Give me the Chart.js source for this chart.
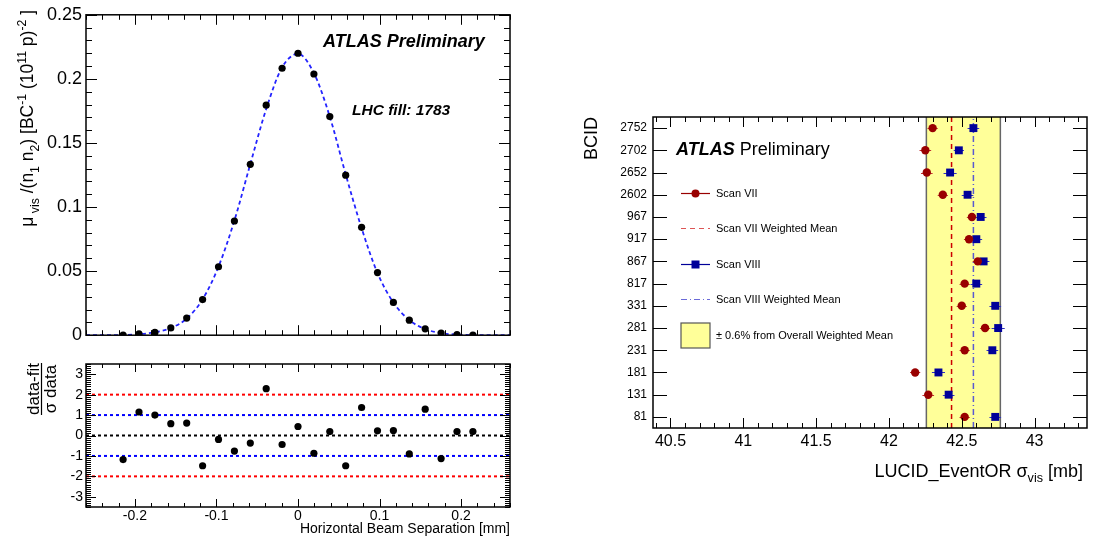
<!DOCTYPE html>
<html>
<head>
<meta charset="utf-8">
<script src="https://cdn.jsdelivr.net/npm/chart.js@4"></script>
<style>
  body { margin: 0; background: #fff; }
  #wrap { position: relative; width: 1099px; height: 540px; }
  canvas { position: absolute; }
</style>
</head>
<body>
<div id="wrap">
  <canvas id="fitChart" width="540" height="350" style="left:0;top:0"></canvas>
  <canvas id="pullChart" width="540" height="190" style="left:0;top:350px"></canvas>
  <canvas id="sigmaChart" width="539" height="540" style="left:560px;top:0"></canvas>
</div>
<script>
const FONT = "'Liberation Sans', Arial, Helvetica, sans-serif";

// --- vdM scan (left panels)
const scanX = [-0.2145, -0.195, -0.1755, -0.156, -0.1365, -0.117, -0.0975, -0.078, -0.0585, -0.039, -0.0195, 0,
  0.0195, 0.039, 0.0585, 0.078, 0.0975, 0.117, 0.1365, 0.156, 0.1755, 0.195, 0.2145];
const muVis = [0.0, 0.0010, 0.0022, 0.0057, 0.0134, 0.0278, 0.0534, 0.0891, 0.1333, 0.1795, 0.2083, 0.2200,
  0.2038, 0.1706, 0.1249, 0.0842, 0.0489, 0.0256, 0.0117, 0.0050, 0.0017, 0.0005, 0.0];
const fitX = [-0.26, -0.2145, -0.195, -0.1755, -0.156, -0.1365, -0.117, -0.0975, -0.078, -0.0585, -0.039, -0.0195, 0,
  0.0195, 0.039, 0.0585, 0.078, 0.0975, 0.117, 0.1365, 0.156, 0.1755, 0.195, 0.2145, 0.26];
const fitY = [0, 0.0002, 0.0008, 0.0023, 0.0056, 0.0130, 0.0280, 0.0535, 0.0895, 0.1335, 0.1765, 0.2090, 0.2195,
  0.2045, 0.1705, 0.1255, 0.0835, 0.0485, 0.0255, 0.0118, 0.0048, 0.0016, 0.0005, 0.0001, 0];
const pull = [-1.18, 1.15, 1.0, 0.58, 0.61, -1.48, -0.19, -0.76, -0.37, 2.29, -0.44, 0.44,
  -0.87, 0.19, -1.48, 1.37, 0.23, 0.24, -0.90, 1.29, -1.13, 0.19, 0.19];
const pullTicks = [-3, -2, -1, 0, 1, 2, 3];
const pullLines = [2, 1, 0, -1, -2];
const pullColors = ['#ff0000', '#0000ff', '#000000', '#0000ff', '#ff0000'];

// --- sigma_vis per BCID (right panel), top to bottom
const bcids = ['2752', '2702', '2652', '2602', '967', '917', '867', '817', '331', '281', '231', '181', '131', '81'];
const scanVII = [42.30, 42.25, 42.26, 42.37, 42.57, 42.55, 42.61, 42.52, 42.50, 42.66, 42.52, 42.18, 42.27, 42.52];
const scanVIIErr = [0.035, 0.04, 0.04, 0.035, 0.035, 0.035, 0.035, 0.035, 0.035, 0.035, 0.035, 0.035, 0.04, 0.035];
const scanVIII = [42.58, 42.48, 42.42, 42.54, 42.63, 42.60, 42.65, 42.60, 42.73, 42.75, 42.71, 42.34, 42.41, 42.73];
const scanVIIIErr = [0.04, 0.035, 0.045, 0.04, 0.04, 0.04, 0.04, 0.04, 0.04, 0.045, 0.04, 0.045, 0.04, 0.04];
const meanVII = 42.43;
const meanVIII = 42.58;
const bandRange = [42.257, 42.765];

function fmt(v) { return String(+v.toFixed(3)); }
function row(i) { return bcids.length - 1 - i; }

function eachStep(min, max, step, fn) {
  const k0 = Math.ceil(min / step - 1e-6), k1 = Math.floor(max / step + 1e-6);
  for (let k = k0; k <= k1; k++) fn(k * step);
}

// ROOT-like frame with ticks pointing inwards on all four sides
function rootFrame(spec) {
  return {
    id: 'rootFrame',
    afterDatasetsDraw(chart) {
      const { ctx, chartArea: a } = chart;
      const sx = chart.scales.x, sy = chart.scales.y;
      ctx.save();
      ctx.strokeStyle = '#000';
      ctx.lineWidth = 1;
      ctx.beginPath();
      spec.x.forEach(t => eachStep(sx.min, sx.max, t.step, v => {
        const px = Math.round(sx.getPixelForValue(v)) + 0.5;
        ctx.moveTo(px, a.bottom); ctx.lineTo(px, a.bottom - t.len);
        ctx.moveTo(px, a.top); ctx.lineTo(px, a.top + t.len);
      }));
      spec.y.forEach(t => eachStep(sy.min, sy.max, t.step, v => {
        const py = Math.round(sy.getPixelForValue(v)) + 0.5;
        ctx.moveTo(a.left, py); ctx.lineTo(a.left + t.len, py);
        ctx.moveTo(a.right, py); ctx.lineTo(a.right - t.len, py);
      }));
      ctx.stroke();
      ctx.lineWidth = 1.5;
      ctx.strokeRect(a.left, a.top, a.right - a.left, a.bottom - a.top);
      ctx.restore();
    }
  };
}

// text with sub/superscripts, drawn from (x, y) along the baseline
function richWidth(ctx, parts, size, style) {
  let w = 0;
  parts.forEach(p => {
    ctx.font = `${style} ${p.sub || p.sup ? size * 0.7 : size}px ${FONT}`;
    w += ctx.measureText(p.t).width;
  });
  return w;
}
function drawRich(ctx, parts, x, y, size, style) {
  let cx = x;
  parts.forEach(p => {
    ctx.font = `${style} ${p.sub || p.sup ? size * 0.7 : size}px ${FONT}`;
    const dy = p.sub ? size * 0.32 : p.sup ? -size * 0.42 : 0;
    ctx.fillText(p.t, cx, y + dy);
    cx += ctx.measureText(p.t).width;
  });
}

const noGrid = { display: false, drawTicks: false };
const noBorder = { display: false };

// ---------- top: fit ----------
const muLabel = [{ t: 'μ' }, { t: ' vis', sub: true }, { t: ' /(n' }, { t: '1', sub: true }, { t: ' n' }, { t: '2', sub: true },
  { t: ') [BC' }, { t: '-1', sup: true }, { t: ' (10' }, { t: '11', sup: true }, { t: ' p)' }, { t: '-2', sup: true }, { t: ' ]' }];

new Chart(document.getElementById('fitChart'), {
  type: 'scatter',
  data: {
    datasets: [
      {
        data: scanX.map((x, i) => ({ x, y: muVis[i] })),
        pointRadius: 3.6, pointBackgroundColor: '#000', pointBorderWidth: 0
      },
      {
        data: fitX.map((x, i) => ({ x, y: fitY[i] })),
        showLine: true, pointRadius: 0, borderColor: '#2424ff', borderWidth: 1.8,
        borderDash: [4, 3], cubicInterpolationMode: 'monotone'
      }
    ]
  },
  options: {
    responsive: false, animation: false, devicePixelRatio: 1,
    layout: { padding: { top: 11, right: 30, left: 0, bottom: 0 } },
    plugins: { legend: { display: false }, tooltip: { enabled: false } },
    scales: {
      x: {
        type: 'linear', min: -0.26, max: 0.26,
        ticks: { display: false }, grid: noGrid, border: noBorder,
        afterFit: s => { s.height = 3; }
      },
      y: {
        min: 0, max: 0.25,
        ticks: { stepSize: 0.05, includeBounds: false, padding: 4, color: '#000', autoSkip: false,
          font: { family: FONT, size: 18 }, callback: v => fmt(v) },
        grid: noGrid, border: noBorder,
        afterFit: s => { s.width = 86; }
      }
    }
  },
  plugins: [
    rootFrame({ x: [{ step: 0.1, len: 10 }, { step: 0.02, len: 5 }], y: [{ step: 0.05, len: 11 }, { step: 0.01, len: 6 }] }),
    {
      id: 'fitText',
      afterDraw(chart) {
        const ctx = chart.ctx;
        ctx.save();
        ctx.fillStyle = '#000';
        ctx.textBaseline = 'alphabetic';
        ctx.font = `italic bold 18px ${FONT}`;
        ctx.fillText('ATLAS Preliminary', 323, 47);
        ctx.font = `italic bold 15.5px ${FONT}`;
        ctx.fillText('LHC fill: 1783', 352, 115);
        const w = richWidth(ctx, muLabel, 17.5, '');
        ctx.translate(33, 10 + w);
        ctx.rotate(-Math.PI / 2);
        drawRich(ctx, muLabel, 0, 0, 17.5, '');
        ctx.restore();
      }
    }
  ]
});

// ---------- bottom: pulls ----------
const pullSets = pullLines.map((v, i) => ({
  data: [{ x: -0.26, y: v }, { x: 0.26, y: v }],
  showLine: true, pointRadius: 0, borderColor: pullColors[i], borderWidth: 2, borderDash: [3, 3]
}));

new Chart(document.getElementById('pullChart'), {
  type: 'scatter',
  data: {
    datasets: [
      {
        data: scanX.map((x, i) => ({ x, y: pull[i] })),
        pointRadius: 3.6, pointBackgroundColor: '#000', pointBorderWidth: 0
      },
      ...pullSets
    ]
  },
  options: {
    responsive: false, animation: false, devicePixelRatio: 1,
    layout: { padding: { top: 14, right: 30, left: 0, bottom: 0 } },
    plugins: { legend: { display: false }, tooltip: { enabled: false } },
    scales: {
      x: {
        type: 'linear', min: -0.26, max: 0.26,
        ticks: { stepSize: 0.1, includeBounds: false, padding: 1, color: '#000', maxRotation: 0, autoSkip: false,
          font: { family: FONT, size: 14 }, callback: v => fmt(v) },
        grid: noGrid, border: noBorder,
        title: { display: true, text: 'Horizontal Beam Separation [mm]', align: 'end', color: '#000',
          font: { family: FONT, size: 14 }, padding: { top: 0, bottom: 2 } },
        afterFit: s => { s.height = 33; }
      },
      y: {
        min: -3.5, max: 3.5,
        ticks: { padding: 3, color: '#000', autoSkip: false,
          font: { family: FONT, size: 14 }, callback: v => fmt(v) },
        afterBuildTicks: s => { s.ticks = pullTicks.map(v => ({ value: v })); },
        grid: noGrid, border: noBorder,
        afterFit: s => { s.width = 86; }
      }
    }
  },
  plugins: [
    rootFrame({ x: [{ step: 0.1, len: 8 }, { step: 0.02, len: 4 }], y: [{ step: 1, len: 10 }, { step: 0.1, len: 5 }] }),
    {
      id: 'pullText',
      afterDraw(chart) {
        const ctx = chart.ctx;
        ctx.save();
        ctx.fillStyle = '#000';
        ctx.strokeStyle = '#000';
        ctx.translate(0, 39);
        ctx.rotate(-Math.PI / 2);
        ctx.font = `17px ${FONT}`;
        ctx.textAlign = 'center';
        ctx.fillText('data-fit', 0, 38.5);
        ctx.fillText('σ data', 0, 56);
        const w = Math.max(ctx.measureText('data-fit').width, ctx.measureText('σ data').width);
        ctx.lineWidth = 1.2;
        ctx.beginPath();
        ctx.moveTo(-w / 2, 41.5); ctx.lineTo(w / 2, 41.5);
        ctx.stroke();
        ctx.restore();
      }
    }
  ]
});

// ---------- right: sigma_vis per BCID ----------
const sigmaLabel = [{ t: 'LUCID_EventOR σ' }, { t: 'vis', sub: true }, { t: ' [mb]' }];

new Chart(document.getElementById('sigmaChart'), {
  type: 'scatter',
  data: {
    datasets: [
      {
        data: scanVII.map((x, i) => ({ x, y: row(i) })),
        pointStyle: 'circle', pointRadius: 4.2, pointBackgroundColor: '#990000', pointBorderWidth: 0
      },
      {
        data: scanVIII.map((x, i) => ({ x, y: row(i) })),
        pointStyle: 'rect', pointRadius: 5.6, pointBackgroundColor: '#000099', pointBorderWidth: 0
      },
      {
        data: [{ x: meanVII, y: -0.5 }, { x: meanVII, y: 13.5 }],
        showLine: true, pointRadius: 0, borderColor: '#cc0000', borderWidth: 1.5, borderDash: [5, 4]
      },
      {
        data: [{ x: meanVIII, y: -0.5 }, { x: meanVIII, y: 13.5 }],
        showLine: true, pointRadius: 0, borderColor: '#5a5ad0', borderWidth: 1.5, borderDash: [6, 3, 1, 3]
      }
    ]
  },
  options: {
    responsive: false, animation: false, devicePixelRatio: 1,
    layout: { padding: { top: 117, right: 12, left: 0, bottom: 0 } },
    plugins: { legend: { display: false }, tooltip: { enabled: false } },
    scales: {
      x: {
        type: 'linear', min: 40.38, max: 43.36,
        ticks: { stepSize: 0.5, includeBounds: false, padding: 4, color: '#000', maxRotation: 0, autoSkip: false,
          font: { family: FONT, size: 16 }, callback: v => fmt(v) },
        grid: noGrid, border: noBorder,
        afterFit: s => { s.height = 112; }
      },
      y: {
        min: -0.5, max: 13.5,
        ticks: { padding: 6, color: '#000', autoSkip: false,
          font: { family: FONT, size: 12 }, callback: v => bcids[row(Math.round(v))] },
        afterBuildTicks: s => { s.ticks = bcids.map((b, i) => ({ value: row(i) })); },
        grid: noGrid, border: noBorder,
        title: { display: true, text: 'BCID', align: 'end', color: '#000',
          font: { family: FONT, size: 18 }, padding: { top: 21, bottom: 0 } },
        afterFit: s => { s.width = 93; }
      }
    }
  },
  plugins: [
    {
      id: 'bandAndErrors',
      beforeDatasetsDraw(chart) {
        const { ctx, chartArea: a } = chart;
        const sx = chart.scales.x, sy = chart.scales.y;
        const x0 = sx.getPixelForValue(bandRange[0]), x1 = sx.getPixelForValue(bandRange[1]);
        ctx.save();
        ctx.fillStyle = '#ffff99';
        ctx.fillRect(x0, a.top, x1 - x0, a.bottom - a.top);
        ctx.strokeStyle = '#666';
        ctx.lineWidth = 1.5;
        ctx.beginPath();
        ctx.moveTo(x0, a.top); ctx.lineTo(x0, a.bottom);
        ctx.moveTo(x1, a.top); ctx.lineTo(x1, a.bottom);
        ctx.stroke();
        ctx.lineWidth = 1.2;
        [[scanVII, scanVIIErr, '#c03030'], [scanVIII, scanVIIIErr, '#3030c0']].forEach(([vals, errs, col]) => {
          ctx.strokeStyle = col;
          ctx.beginPath();
          vals.forEach((v, i) => {
            const py = Math.round(sy.getPixelForValue(row(i))) + 0.5;
            ctx.moveTo(sx.getPixelForValue(v - errs[i]), py);
            ctx.lineTo(sx.getPixelForValue(v + errs[i]), py);
          });
          ctx.stroke();
        });
        ctx.restore();
      }
    },
    rootFrame({ x: [{ step: 0.5, len: 10 }, { step: 0.1, len: 5 }], y: [{ step: 1, len: 14 }] }),
    {
      id: 'sigmaText',
      afterDraw(chart) {
        const ctx = chart.ctx;
        ctx.save();
        ctx.fillStyle = '#000';
        ctx.font = `italic bold 18px ${FONT}`;
        ctx.fillText('ATLAS', 116, 155);
        const w = ctx.measureText('ATLAS ').width;
        ctx.font = `18px ${FONT}`;
        ctx.fillText('Preliminary', 116 + w, 155);

        // legend
        const lx0 = 121, lx1 = 150, lxm = 135.5, tx = 156;
        ctx.font = `11px ${FONT}`;
        ctx.textBaseline = 'middle';
        ctx.lineWidth = 1.2;
        // Scan VII
        ctx.strokeStyle = '#990000';
        ctx.beginPath(); ctx.moveTo(lx0, 193.5); ctx.lineTo(lx1, 193.5); ctx.stroke();
        ctx.fillStyle = '#990000';
        ctx.beginPath(); ctx.arc(lxm, 193.5, 4, 0, Math.PI * 2); ctx.fill();
        // Scan VII weighted mean
        ctx.strokeStyle = '#dd5555';
        ctx.setLineDash([5, 4]);
        ctx.beginPath(); ctx.moveTo(lx0, 228.5); ctx.lineTo(lx1, 228.5); ctx.stroke();
        // Scan VIII
        ctx.setLineDash([]);
        ctx.strokeStyle = '#000099';
        ctx.beginPath(); ctx.moveTo(lx0, 264.5); ctx.lineTo(lx1, 264.5); ctx.stroke();
        ctx.fillStyle = '#000099';
        ctx.fillRect(lxm - 4, 260.5, 8, 8);
        // Scan VIII weighted mean
        ctx.strokeStyle = '#6a6ad8';
        ctx.setLineDash([6, 3, 1, 3]);
        ctx.beginPath(); ctx.moveTo(lx0, 299.5); ctx.lineTo(lx1, 299.5); ctx.stroke();
        ctx.setLineDash([]);
        // band box
        ctx.fillStyle = '#ffff99';
        ctx.fillRect(lx0, 323, lx1 - lx0, 25);
        ctx.strokeStyle = '#555';
        ctx.lineWidth = 1.2;
        ctx.strokeRect(lx0, 323, lx1 - lx0, 25);

        ctx.fillStyle = '#000';
        ctx.fillText('Scan VII', tx, 193.5);
        ctx.fillText('Scan VII Weighted Mean', tx, 228.5);
        ctx.fillText('Scan VIII', tx, 264.5);
        ctx.fillText('Scan VIII Weighted Mean', tx, 299.5);
        ctx.fillText('± 0.6% from Overall Weighted Mean', tx, 335.5);

        // x axis title
        ctx.textBaseline = 'alphabetic';
        const tw = richWidth(ctx, sigmaLabel, 18, '');
        drawRich(ctx, sigmaLabel, 523 - tw, 476.5, 18, '');
        ctx.restore();
      }
    }
  ]
});
</script>
</body>
</html>
